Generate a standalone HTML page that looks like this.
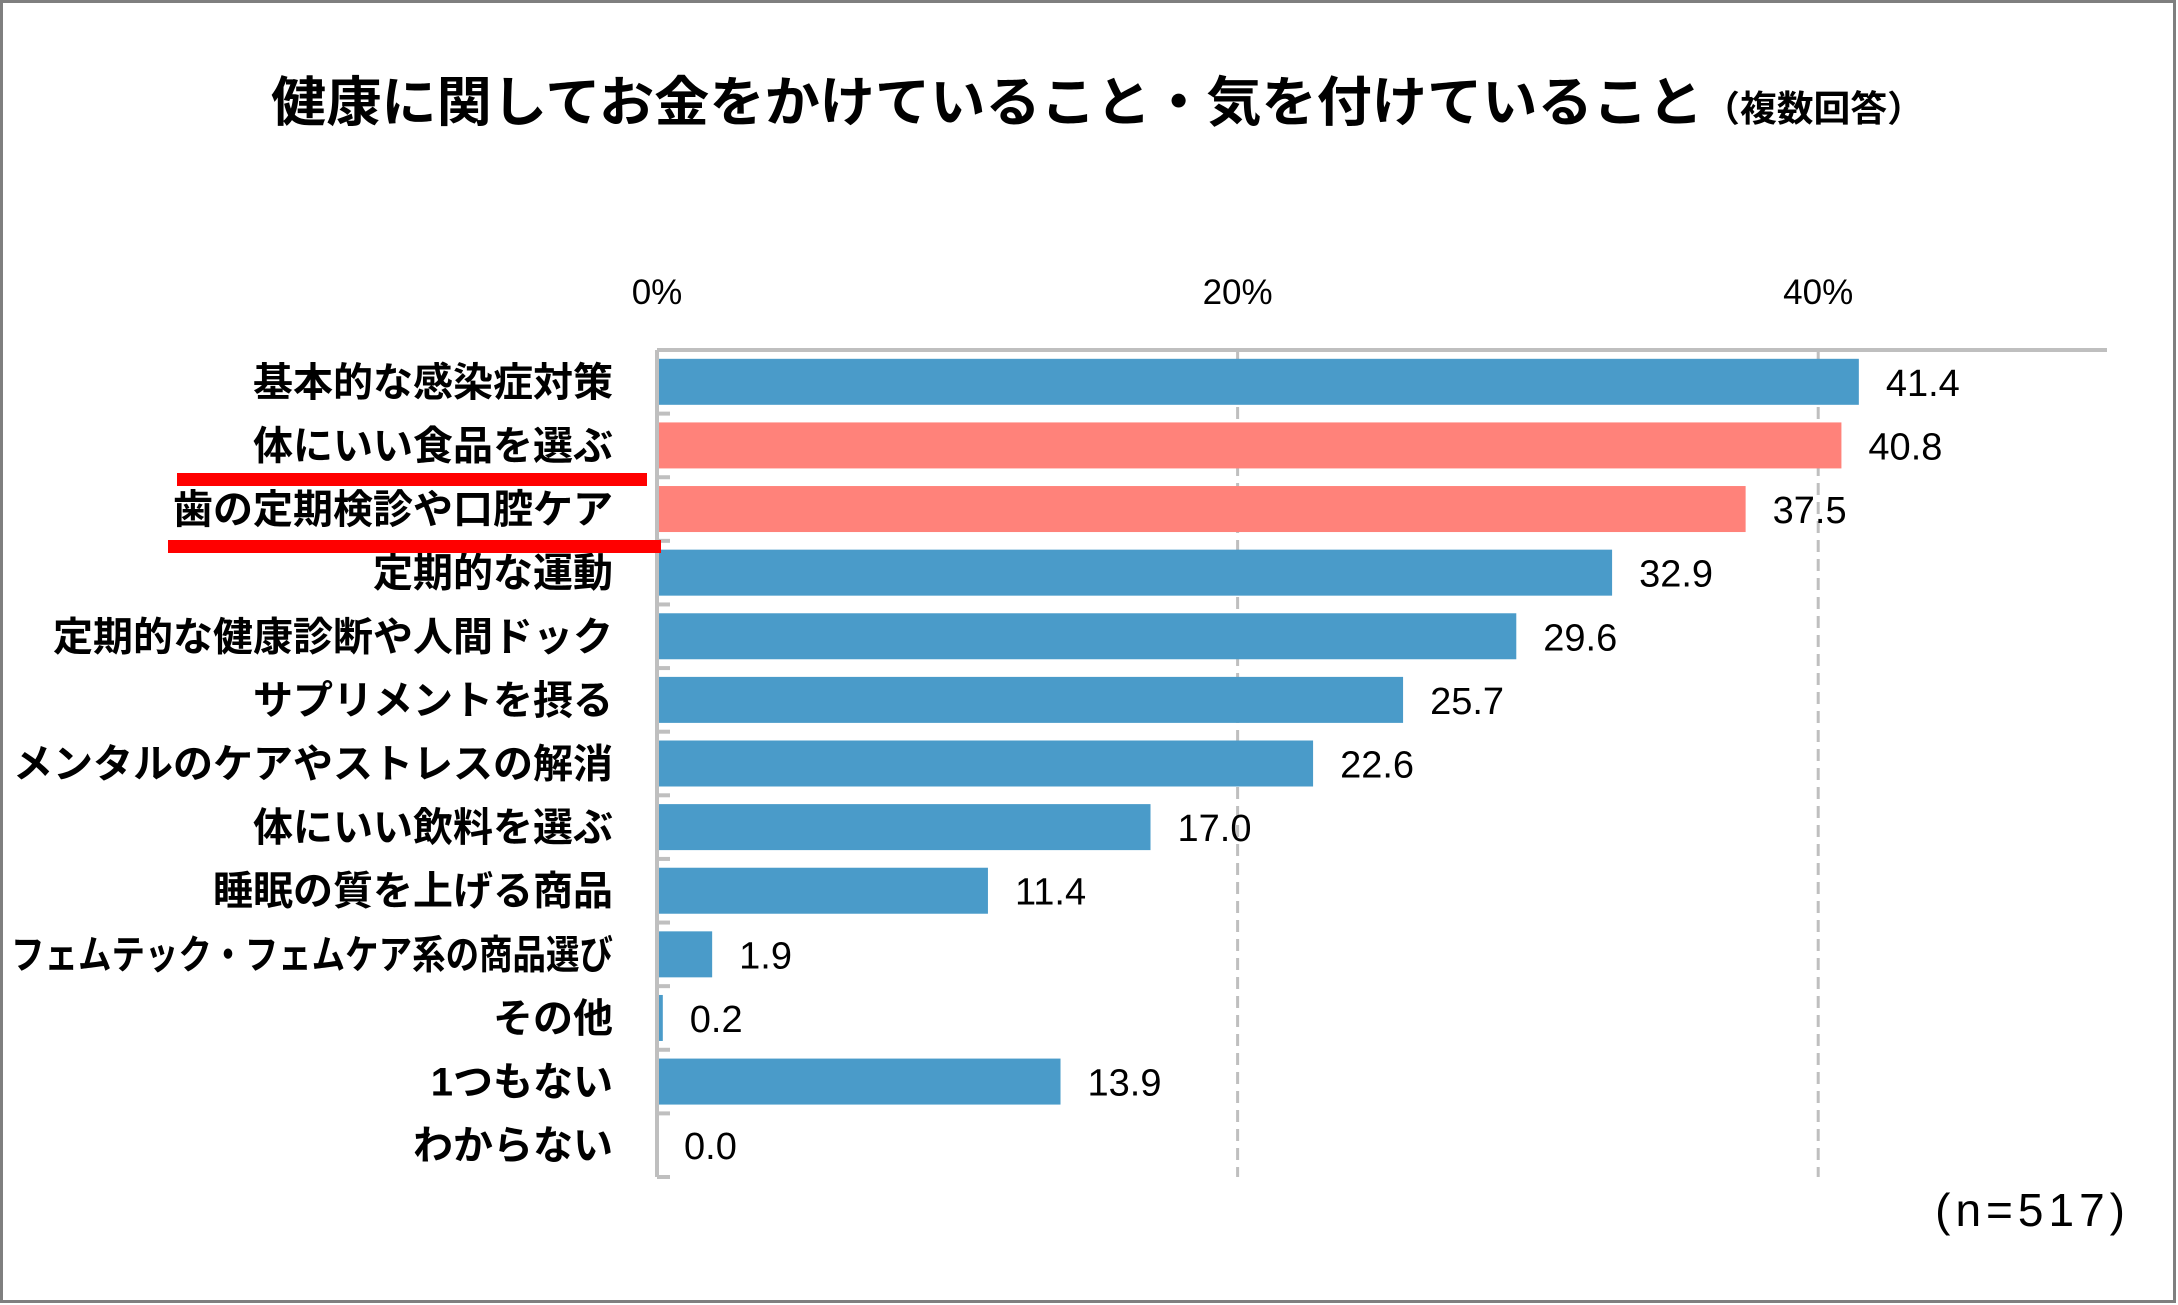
<!DOCTYPE html>
<html><head><meta charset="utf-8"><style>
html,body{margin:0;padding:0;background:#fff}
svg{display:block}
.jp{font-family:"Liberation Sans","Noto Sans CJK JP",sans-serif}
</style></head><body>
<svg id="chart" width="2178" height="1305" viewBox="0 0 2178 1305" xmlns="http://www.w3.org/2000/svg">
<rect x="1.5" y="1.5" width="2173" height="1300" fill="#fff" stroke="#7f7f7f" stroke-width="3"/>
<text class="jp" x="271" y="121" textLength="1653" lengthAdjust="spacingAndGlyphs" font-size="54" font-weight="bold" fill="#000">健康に関してお金をかけていること・気を付けていること<tspan font-size="36">（複数回答）</tspan></text>
<g id="grid"></g>
<g id="bars"></g>
<g id="labels"></g>
<rect x="177" y="473" width="470" height="13" fill="#ff0000"/>
<rect x="168" y="540" width="493" height="13" fill="#ff0000"/>
<text class="jp" x="2130" y="1226" text-anchor="end" font-size="46" letter-spacing="5" fill="#000">(n=517)</text>
</svg>
<script>
const categories = ["基本的な感染症対策","体にいい食品を選ぶ","歯の定期検診や口腔ケア","定期的な運動","定期的な健康診断や人間ドック","サプリメントを摂る","メンタルのケアやストレスの解消","体にいい飲料を選ぶ","睡眠の質を上げる商品","フェムテック・フェムケア系の商品選び","その他","1つもない","わからない"];
const values = [41.4,40.8,37.5,32.9,29.6,25.7,22.6,17.0,11.4,1.9,0.2,13.9,0.0];
const highlighted = [false,true,true,false,false,false,false,false,false,false,false,false,false];
const tickValues = [0,20,40];
const tickLabels = ["0%","20%","40%"];

const NS="http://www.w3.org/2000/svg";
const x0=657, pxPerPct=29.03, yTop=350, yBot=1177;
const rowH=(yBot-yTop)/categories.length, barH=46;
const xs=v=>x0+v*pxPerPct;
const yc=i=>yTop+rowH*(i+0.5);
function mk(tag,attrs,parent){const e=document.createElementNS(NS,tag);for(const k in attrs)e.setAttribute(k,attrs[k]);parent.appendChild(e);return e;}
const grid=document.getElementById('grid'),bars=document.getElementById('bars'),labels=document.getElementById('labels');

tickValues.forEach((t,i)=>{
  const x=xs(t);
  if(t>0){
    const l=mk('line',{x1:x,y1:yTop,x2:x,y2:yBot,stroke:'#bfbfbf','stroke-width':3,'stroke-dasharray':'12,7'},grid);
    
    
  }
  const tx=mk('text',{x:x,y:304,'text-anchor':'middle','font-size':35,fill:'#000',class:'jp'},labels);
  tx.textContent=tickLabels[i];
  
  
});
const ax=mk('line',{x1:x0,y1:yTop,x2:2107,y2:yTop,stroke:'#bfbfbf','stroke-width':4},grid);


const ay=mk('line',{x1:x0,y1:yTop,x2:x0,y2:yBot,stroke:'#bfbfbf','stroke-width':4},grid);


for(let i=0;i<=categories.length;i++){
  const y=yTop+rowH*i;
  const tk=mk('line',{x1:x0,y1:y,x2:x0+13,y2:y,stroke:'#bfbfbf','stroke-width':4},grid);
  
  
}
categories.forEach((c,i)=>{
  const w=Math.max(xs(values[i])-x0,0);
  const r=mk('rect',{x:x0+2,y:yc(i)-barH/2,width:Math.max(w-2,values[i]>0?3:0),height:barH,fill:highlighted[i]?'#ff827a':'#4a9bc9'},bars);
  
  
  const cl=mk('text',{x:613,y:yc(i)+14,'text-anchor':'end','font-size':40,'font-weight':'bold',fill:'#000',class:'jp'},labels);
  cl.textContent=c;
  
  
  const len=cl.getComputedTextLength();
  if(len>602){cl.setAttribute('textLength',602);cl.setAttribute('lengthAdjust','spacingAndGlyphs');}
  const vl=mk('text',{x:xs(values[i])+27,y:yc(i)+14,'font-size':38,fill:'#000',class:'jp'},labels);
  vl.textContent=values[i].toFixed(1);
  
  
});
</script>
</body></html>
